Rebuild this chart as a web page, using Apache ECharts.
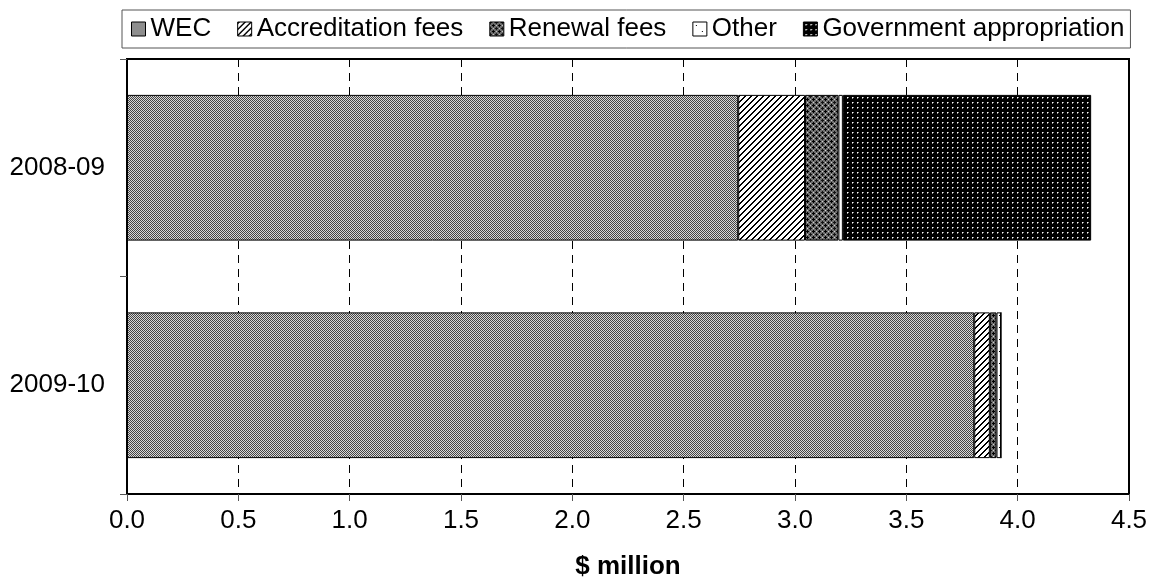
<!DOCTYPE html>
<html>
<head>
<meta charset="utf-8">
<title>Revenue sources</title>
<script src="https://cdn.jsdelivr.net/npm/echarts@6/dist/echarts.min.js"></script>
<style>
  html, body { margin: 0; padding: 0; background: #fff; }
  #chart { width: 1157px; height: 581px; }
</style>
</head>
<body>
<div id="chart"></div>
<script>
// Revenue by source, $ million
const categories = ['2008-09', '2009-10'];
const wec = [2.745, 3.805];
const accreditationFees = [0.30, 0.07];
const renewalFees = [0.15, 0.03];
const other = [0.02, 0.02];
const governmentAppropriation = [1.115, 0];
const xTicks = [0, 0.5, 1, 1.5, 2, 2.5, 3, 3.5, 4, 4.5];

// Small pixel tiles used as monochrome fill patterns
function tile(size, bg, paint) {
  const c = document.createElement('canvas');
  c.width = c.height = size;
  const ctx = c.getContext('2d');
  ctx.fillStyle = bg;
  ctx.fillRect(0, 0, size, size);
  for (let y = 0; y < size; y++) {
    for (let x = 0; x < size; x++) {
      const col = paint(x, y);
      if (col) { ctx.fillStyle = col; ctx.fillRect(x, y, 1, 1); }
    }
  }
  return c;
}

const wecTile = tile(2, '#d8d8d8', (x, y) => ((x + y) % 2 === 0 ? '#444444' : null));
const accTile = tile(6, '#ffffff', (x, y) => ((x + y) % 6 < 2 ? '#000000' : null));
const renTile = tile(6, '#6e6e6e', (x, y) => {
  const plus = (cx, cy) => (x === cx && Math.abs(y - cy) <= 1) || (y === cy && Math.abs(x - cx) <= 1);
  if (plus(3, 3)) return '#000000';
  if (plus(0, 0) || plus(6, 0) || plus(0, 6)) return '#111111';
  if ((x === 0 && y === 3) || (x === 3 && y === 0)) return '#cfcfcf';
  return null;
});
const othTile = tile(12, '#ffffff', (x, y) => ((x === 3 && y === 3) || (x === 9 && y === 9) ? '#000000' : null));
const govTile = tile(5, '#000000', (x, y) => {
  if (x === 2 && y === 2) return '#ffffff';
  if ((x === 3 && y === 2) || (x === 2 && y === 3)) return '#8a8a8a';
  return null;
});

function pattern(img) {
  return { image: img, repeat: 'repeat' };
}

const font = 'Liberation Sans, Arial, sans-serif';

function barSeries(name, data, img) {
  return {
    name: name,
    type: 'bar',
    stack: 'total',
    data: data,
    barWidth: '67%',
    itemStyle: { color: pattern(img), borderColor: '#000', borderWidth: 1 },
    emphasis: { disabled: true }
  };
}

const chart = echarts.init(document.getElementById('chart'), null, { renderer: 'canvas' });

chart.setOption({
  animation: false,
  backgroundColor: '#fff',
  textStyle: { fontFamily: font, color: '#000' },
  legend: {
    top: 10,
    left: 122,
    padding: [6, 6, 6, 9],
    borderColor: '#555',
    borderWidth: 1,
    itemWidth: 14,
    itemHeight: 14,
    itemGap: 26,
    icon: 'rect',
    textStyle: { fontSize: 26, lineHeight: 26, fontFamily: font, color: '#000' },
    itemStyle: { borderColor: '#000', borderWidth: 1 }
  },
  grid: {
    left: 127,
    right: 28,
    top: 59,
    bottom: 87,
    show: true,
    borderColor: '#000',
    borderWidth: 2,
    containLabel: false,
    outerBoundsMode: 'none'
  },
  xAxis: {
    type: 'value',
    min: 0,
    max: 4.5,
    interval: 0.5,
    name: '$ million',
    nameLocation: 'middle',
    nameGap: 60,
    nameTextStyle: { fontSize: 26, fontWeight: 'bold', fontFamily: font, color: '#000' },
    axisLine: { show: true, lineStyle: { color: '#000', width: 2 } },
    axisTick: { show: true, length: 7, lineStyle: { color: '#555', width: 1 } },
    axisLabel: {
      fontSize: 26, color: '#000', fontFamily: font, margin: 14,
      formatter: v => xTicks.includes(v) ? v.toFixed(1) : ''
    },
    splitLine: { show: true, lineStyle: { color: '#000', width: 1, type: [8, 6] } }
  },
  yAxis: {
    type: 'category',
    inverse: true,
    data: categories,
    axisLine: { show: true, lineStyle: { color: '#000', width: 2 } },
    axisTick: { show: true, length: 7, lineStyle: { color: '#555', width: 1 } },
    axisLabel: { fontSize: 26, color: '#000', fontFamily: font, margin: 22 },
    splitLine: { show: false }
  },
  series: [
    barSeries('WEC', wec, wecTile),
    barSeries('Accreditation fees', accreditationFees, accTile),
    barSeries('Renewal fees', renewalFees, renTile),
    barSeries('Other', other, othTile),
    barSeries('Government appropriation', governmentAppropriation, govTile)
  ]
});
</script>
</body>
</html>
